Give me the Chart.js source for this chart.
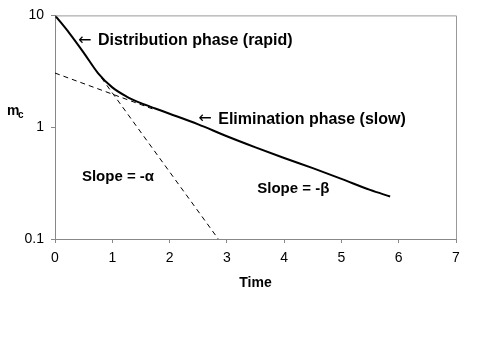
<!DOCTYPE html>
<html>
<head>
<meta charset="utf-8">
<script src="https://cdn.jsdelivr.net/npm/chart.js@4.4.1/dist/chart.umd.min.js"></script>
<style>
  html, body { margin: 0; padding: 0; background: #fff; }
  canvas { display: block; }
</style>
</head>
<body>
<canvas id="pk-chart" width="504" height="341"></canvas>
<script>
// curva de concentração (escala log)
const curveTime = [0, 0.25, 0.5, 0.75, 1.0, 1.25, 1.5, 1.75, 2.0, 2.5, 3.0, 3.5, 4.0, 4.5, 5.0, 5.5, 5.85];
const curveConc = [10, 6.95, 4.65, 3.05, 2.27, 1.88, 1.64, 1.47, 1.32, 1.06, 0.83, 0.66, 0.53, 0.43, 0.345, 0.275, 0.24];

// retas tracejadas (extrapolações)
const betaTime = [0, 1.7];
const betaConc = [3.05, 1.46];
const alphaTime = [0.72, 2.85];
const alphaConc = [3.2, 0.1];

const yTicks = [0.1, 1, 10];

// textos sobre o gráfico (coordenadas em dados)
const notes = [
    { text: 'Distribution phase (rapid)', arrow: true, x: 0.40, y: 5.9, size: 16 },
    { text: 'Elimination phase (slow)', arrow: true, x: 2.50, y: 1.18, size: 16 },
    { text: 'Slope = -\u03b1', arrow: false, x: 0.47, y: 0.36, size: 15 },
    { text: 'Slope = -\u03b2', arrow: false, x: 3.53, y: 0.28, size: 15 }
];

function toPoints(xs, ys) {
    return xs.map((x, i) => ({ x: x, y: ys[i] }));
}

const textPlugin = {
    id: 'textPlugin',
    afterDraw(chart) {
        const ctx = chart.ctx;
        const area = chart.chartArea;
        const xs = chart.scales.x;
        const ys = chart.scales.y;
        ctx.save();
        // caixa do gráfico
        ctx.strokeStyle = '#999';
        ctx.lineWidth = 1;
        ctx.beginPath();
        ctx.moveTo(area.left, area.top + 0.5);
        ctx.lineTo(area.right + 0.5, area.top + 0.5);
        ctx.lineTo(area.right + 0.5, area.bottom);
        ctx.stroke();

        ctx.fillStyle = '#000';
        ctx.textBaseline = 'middle';
        ctx.textAlign = 'left';
        notes.forEach(n => {
            let px = xs.getPixelForValue(n.x);
            const py = ys.getPixelForValue(n.y);
            if (n.arrow) {
                ctx.font = '16px "DejaVu Sans", sans-serif';
                ctx.fillText('\u2190', px, py);
                px += 20;
            }
            ctx.font = 'bold ' + n.size + 'px "Liberation Sans", Arial, sans-serif';
            ctx.fillText(n.text, px, py);
        });

        // títulos dos eixos
        ctx.font = 'bold 14px "Liberation Sans", Arial, sans-serif';
        ctx.textAlign = 'center';
        ctx.fillText('Time', (area.left + area.right) / 2, area.bottom + 44);
        ctx.textAlign = 'left';
        ctx.fillText('m', 7, 111);
        ctx.font = 'bold 10px "Liberation Sans", Arial, sans-serif';
        ctx.fillText('c', 18, 115);
        ctx.restore();
    }
};

new Chart(document.getElementById('pk-chart'), {
    type: 'line',
    data: {
        datasets: [
            {
                data: toPoints(curveTime, curveConc),
                borderColor: '#000',
                borderWidth: 2,
                pointRadius: 0,
                cubicInterpolationMode: 'monotone',
                order: 0
            },
            {
                data: toPoints(betaTime, betaConc),
                borderColor: '#000',
                borderWidth: 1,
                borderDash: [5, 4],
                pointRadius: 0,
                order: 1
            },
            {
                data: toPoints(alphaTime, alphaConc),
                borderColor: '#000',
                borderWidth: 1,
                borderDash: [5, 4],
                pointRadius: 0,
                order: 1
            }
        ]
    },
    options: {
        responsive: false,
        animation: false,
        devicePixelRatio: 1,
        layout: { padding: { left: 0, right: 48, top: 13, bottom: 72 } },
        plugins: { legend: { display: false }, tooltip: { enabled: false } },
        scales: {
            x: {
                type: 'linear',
                min: 0,
                max: 7,
                ticks: {
                    stepSize: 1,
                    padding: 7,
                    color: '#000',
                    font: { family: '"Liberation Sans", Arial, sans-serif', size: 14 }
                },
                grid: { drawOnChartArea: false, drawTicks: true, tickLength: 4, color: '#888' },
                border: { color: '#888' },
                afterFit: s => { s.height = 30; }
            },
            y: {
                type: 'logarithmic',
                min: 0.1,
                max: 10,
                afterBuildTicks: s => { s.ticks = yTicks.map(v => ({ value: v })); },
                ticks: {
                    padding: 7,
                    color: '#000',
                    font: { family: '"Liberation Sans", Arial, sans-serif', size: 14 },
                    callback: v => String(v)
                },
                grid: { drawOnChartArea: false, drawTicks: true, tickLength: 4, color: '#888' },
                border: { color: '#888' },
                afterFit: s => { s.width = 55; }
            }
        }
    },
    plugins: [textPlugin]
});
</script>
</body>
</html>
